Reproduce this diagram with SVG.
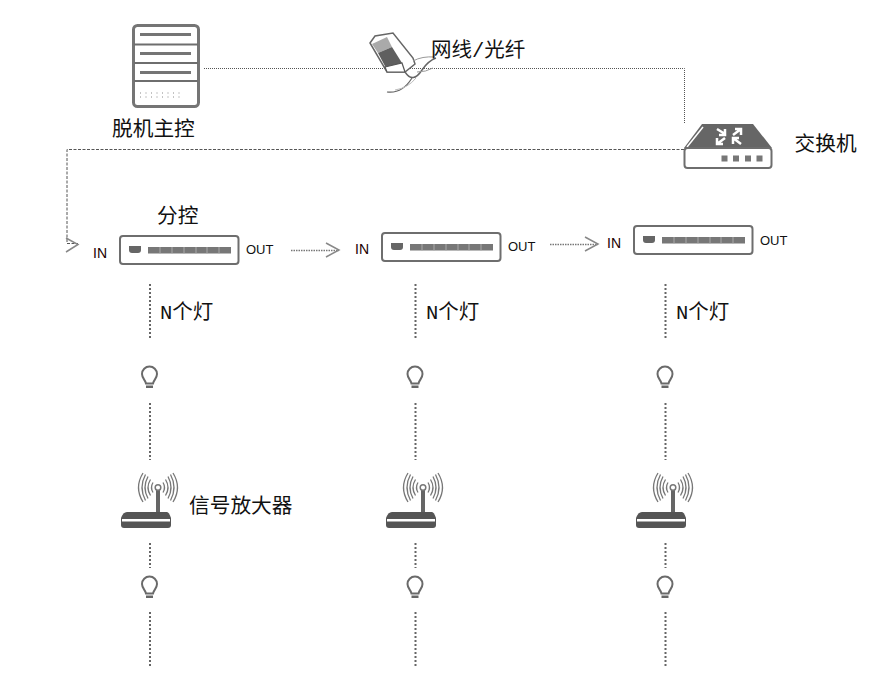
<svg xmlns="http://www.w3.org/2000/svg" width="874" height="691" viewBox="0 0 874 691">
<style>
text{font-family:"Noto Sans CJK SC","Liberation Sans",sans-serif;fill:#111}
.cn{font-size:20.700px}
.mx{font-family:"Liberation Mono","Noto Sans CJK SC",monospace;font-size:20.500px}
.io{font-family:"Liberation Sans",sans-serif;font-size:13px;fill:#111}
.in{font-family:"Liberation Sans",sans-serif;font-size:14px;fill:#200}
.dot{fill:none;stroke:#555;stroke-width:1;stroke-dasharray:1 1}
.dot2{fill:none;stroke:#777;stroke-width:1.500;stroke-dasharray:1.500 1}
.vd{fill:none;stroke:#666;stroke-width:2;stroke-dasharray:2 2}
.dash{fill:none;stroke:#555;stroke-width:1;stroke-dasharray:3 1.500}
.arr{fill:none;stroke:#888;stroke-width:1.500}
.g{fill:#666}
.ol{fill:#fff;stroke:#6e6e6e;stroke-width:2}
.ar{fill:none;stroke:#777;stroke-width:1.300}
</style>
<defs>
<g id="ctl">
<rect class="ol" x="0" y="0" width="118.500" height="28" rx="3"/>
<path class="g" d="M9 10h12v4q0 3-3 3h-6q-3 0-3-3z"/>
<rect fill="#777" x="28" y="11" width="83" height="6.500"/>
<path d="M40 11v6.500M52 11v6.500M64 11v6.500M76 11v6.500M87 11v6.500M99 11v6.500" stroke="#aaa" stroke-width="1"/>
</g>
<g id="bulb">
<path d="M-3.500 9.500C-4 6-7.500 4.500-7.500 0A7.500 7.500 0 0 1 7.500 0C7.500 4.500 4 6 3.500 9.500Z" fill="none" stroke="#6a6a6a" stroke-width="2"/>
<rect class="g" x="-3.500" y="11.500" width="7" height="2.500"/>
</g>
<g id="amp">
<rect class="g" x="10" y="-20" width="4" height="23"/>
<circle cx="12" cy="-22.500" r="2.800" fill="#fff" stroke="#777" stroke-width="1.500"/>
<g transform="translate(12,-22.500)">
<path class="ar" d="M-5-5q-3 5 0 10M-7.500-8q-5 8 0 16M-10-11q-6 11 0 22M-12.500-13q-7 13 0 26M-15-14.500q-9 14.500 0 29"/>
<path class="ar" d="M5-5q3 5 0 10M7.500-8q5 8 0 16M10-11q6 11 0 22M12.500-13q7 13 0 26M15-14.500q9 14.500 0 29"/>
</g>
<path fill="#555" d="M-19 2H21Q23 2 25 8V15Q25 18 22 18H-22Q-25 18-25 15V8Q-23 2-19 2Z"/>
<rect fill="#fff" x="-24" y="9" width="48" height="2.500"/>
</g>
</defs>

<g id="connectors">
<path class="dot" d="M204 68.500H684.500V124"/>
<path class="dash" d="M684 149.500H67V243.500H78"/>
<path class="arr" d="M66 238L78 244.500L66 252"/>
<path class="dot2" d="M291 250.500H339"/>
<path class="arr" d="M326 243L339 250L326 257"/>
<path class="dot2" d="M550 244.500H598"/>
<path class="arr" d="M585 237L598 244L585 251"/>
<path class="vd" d="M150 284V338M150 403V460M150 543V568M150 612V668"/>
<path class="vd" d="M415.500 284V338M415.500 403V460M415.500 543V568M415.500 612V668"/>
<path class="vd" d="M665.500 284V338M665.500 403V460M665.500 543V568M665.500 612V668"/>
</g>

<g id="server">
<rect x="133.500" y="25.500" width="65" height="81" rx="4" fill="#fff" stroke="#757575" stroke-width="3"/>
<path d="M134 44.500h64M134 63h64M134 81h64" stroke="#6e6e6e" stroke-width="1.800"/>
<path d="M140 34.500h51M140 53.500h51M140 72.500h51" stroke="#757575" stroke-width="3"/>
<path d="M140 93h41M140 97h41" stroke="#888" stroke-width="1" stroke-dasharray="1 4.500"/>
<text class="cn" x="112" y="136">脱机主控</text>
</g>

<g id="cable">
<path d="M370 43L375 36L393 33L413 58L415 64L405 72H387L370 43Z" fill="#fff" stroke="#666" stroke-width="1.500"/>
<path fill="#aaa" d="M372 44L387 37L392 47L378 53Z"/>
<path fill="#5f5f5f" d="M378 53L392 47L402 63L386 68Z"/>
<path d="M385 67L402 63L405 72L387 72Z" fill="#fff" stroke="#555" stroke-width="1.200"/>
<path d="M405 72Q413 84 422 70Q428 61 436 58" fill="none" stroke="#666" stroke-width="1.400"/>
<path d="M413 61Q422 56 435 57M417 72Q426 72 433 68" fill="none" stroke="#999" stroke-width="1"/>
<path d="M387 92Q402 94 412 78" fill="none" stroke="#666" stroke-width="1.200"/>
<path d="M395 90Q408 88 416 78" fill="none" stroke="#bbb" stroke-width="1"/>
<text class="mx" x="431" y="57">网线/光纤</text>
</g>

<g id="switch">
<path class="g" d="M684 148L702 124H753L772 148Z"/>
<path d="M687 147L703 127" stroke="#fff" stroke-width="1.500"/>
<g fill="none" stroke="#fff" stroke-width="2.500">
<path d="M717 129L725 134M725 129V135H719"/>
<path d="M733 135L741 129M735 129H741V135"/>
<path d="M717 144L725 138M717 138V144H723"/>
<path d="M733 138L741 144M733 144V138H739"/>
</g>
<rect class="ol" x="684.500" y="148" width="87" height="20" rx="3"/>
<rect fill="#777" x="721.500" y="155.500" width="6" height="6"/><rect fill="#777" x="733" y="155.500" width="6" height="6"/><rect fill="#777" x="745" y="155.500" width="6" height="6"/><rect fill="#777" x="756.500" y="155.500" width="6" height="6"/>
<text class="cn" x="794.500" y="151">交换机</text>
</g>

<g id="ctl1"><use href="#ctl" x="120" y="236"/><text class="cn" x="157" y="222.500">分控</text><text class="in" x="93" y="258">IN</text><text class="io" x="246" y="254">OUT</text></g>
<g id="ctl2"><use href="#ctl" x="382" y="233"/><text class="in" x="355" y="254">IN</text><text class="io" x="508" y="251">OUT</text></g>
<g id="ctl3"><use href="#ctl" x="634" y="226"/><text class="in" x="607" y="248">IN</text><text class="io" x="760" y="245">OUT</text></g>

<g id="lbl1"><text class="mx" x="160" y="319">N个灯</text></g>
<g id="lbl2"><text class="mx" x="426" y="319">N个灯</text></g>
<g id="lbl3"><text class="mx" x="676" y="319">N个灯</text></g>

<g id="bulb1a"><use href="#bulb" x="149.500" y="374"/></g>
<g id="bulb2a"><use href="#bulb" x="415" y="374"/></g>
<g id="bulb3a"><use href="#bulb" x="665" y="374"/></g>
<g id="bulb1b"><use href="#bulb" x="149.500" y="584"/></g>
<g id="bulb2b"><use href="#bulb" x="415" y="584"/></g>
<g id="bulb3b"><use href="#bulb" x="665" y="584"/></g>

<g id="amp1"><use href="#amp" x="146" y="510"/><text class="cn" x="189" y="513">信号放大器</text></g>
<g id="amp2"><use href="#amp" x="411" y="510"/></g>
<g id="amp3"><use href="#amp" x="661" y="510"/></g>
</svg>
